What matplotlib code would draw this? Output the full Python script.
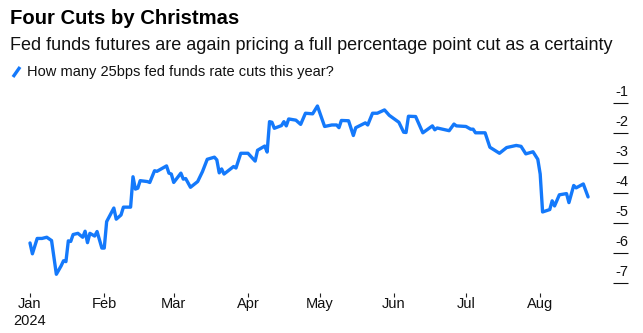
import matplotlib
matplotlib.use("Agg")
import matplotlib.pyplot as plt
import matplotlib.dates as mdates
from matplotlib.lines import Line2D
import numpy as np
import pandas as pd

plt.rcParams['font.family'] = ['Liberation Sans', 'DejaVu Sans']

title = "Four Cuts by Christmas"
subtitle = "Fed funds futures are again pricing a full percentage point cut as a certainty"
series_label = "How many 25bps fed funds rate cuts this year?"

dates = [
    "2024-01-01", "2024-01-02", "2024-01-04", "2024-01-06", "2024-01-08", "2024-01-10",
    "2024-01-12", "2024-01-14", "2024-01-15", "2024-01-16", "2024-01-17", "2024-01-18",
    "2024-01-19", "2024-01-21", "2024-01-23", "2024-01-24", "2024-01-25", "2024-01-26",
    "2024-01-28", "2024-01-29", "2024-01-31", "2024-02-01", "2024-02-02", "2024-02-05",
    "2024-02-06", "2024-02-08", "2024-02-09", "2024-02-12", "2024-02-13", "2024-02-14",
    "2024-02-15", "2024-02-16", "2024-02-19", "2024-02-20", "2024-02-22", "2024-02-23",
    "2024-02-27", "2024-02-28", "2024-02-29", "2024-03-01", "2024-03-04", "2024-03-05",
    "2024-03-06", "2024-03-08", "2024-03-11", "2024-03-13", "2024-03-15", "2024-03-18",
    "2024-03-19", "2024-03-20", "2024-03-21", "2024-03-22", "2024-03-26", "2024-03-27",
    "2024-03-29", "2024-04-01", "2024-04-04", "2024-04-05", "2024-04-08", "2024-04-09",
    "2024-04-10", "2024-04-11", "2024-04-12", "2024-04-15", "2024-04-16", "2024-04-17",
    "2024-04-18", "2024-04-21", "2024-04-23", "2024-04-25", "2024-04-28", "2024-04-30",
    "2024-05-03", "2024-05-06", "2024-05-08", "2024-05-09", "2024-05-10", "2024-05-13",
    "2024-05-15", "2024-05-16", "2024-05-20", "2024-05-21", "2024-05-23", "2024-05-25",
    "2024-05-28", "2024-05-30", "2024-06-03", "2024-06-05", "2024-06-06", "2024-06-07",
    "2024-06-10", "2024-06-13", "2024-06-17", "2024-06-18", "2024-06-19", "2024-06-24",
    "2024-06-26", "2024-06-27", "2024-07-01", "2024-07-03", "2024-07-04", "2024-07-05",
    "2024-07-09", "2024-07-11", "2024-07-15", "2024-07-18", "2024-07-22", "2024-07-24",
    "2024-07-26", "2024-07-29", "2024-07-31", "2024-08-01", "2024-08-02", "2024-08-05",
    "2024-08-06", "2024-08-07", "2024-08-09", "2024-08-12", "2024-08-13", "2024-08-15",
    "2024-08-16", "2024-08-19", "2024-08-21",
]
cuts = [
    -5.66, -6.02, -5.51, -5.51, -5.47, -5.58,
    -6.70, -6.42, -6.25, -6.28, -5.59, -5.61,
    -5.38, -5.34, -5.47, -5.27, -5.65, -5.34,
    -5.43, -5.28, -5.83, -5.83, -4.95, -4.50,
    -4.87, -4.73, -4.47, -4.47, -3.46, -3.87,
    -3.84, -3.59, -3.62, -3.65, -3.26, -3.28,
    -3.10, -3.34, -3.37, -3.65, -3.34, -3.54,
    -3.52, -3.81, -3.62, -3.29, -2.88, -2.81,
    -2.90, -3.33, -3.20, -3.37, -3.12, -3.17,
    -2.68, -2.68, -2.94, -2.58, -2.44, -2.64,
    -1.63, -1.65, -1.85, -1.76, -1.63, -1.77,
    -1.54, -1.58, -1.72, -1.35, -1.37, -1.11,
    -1.79, -1.74, -1.74, -1.83, -1.59, -1.60,
    -2.09, -1.83, -1.67, -1.74, -1.35, -1.35,
    -1.24, -1.42, -1.65, -1.98, -1.99, -1.45,
    -1.46, -2.00, -1.77, -1.90, -1.84, -1.93,
    -1.71, -1.77, -1.79, -1.88, -1.88, -2.00,
    -2.00, -2.48, -2.68, -2.49, -2.42, -2.45,
    -2.70, -2.63, -2.88, -3.37, -4.63, -4.55,
    -4.26, -4.43, -4.06, -4.02, -4.32, -3.75,
    -3.83, -3.70, -4.13,
]

month_ticks = ["2024-01-01", "2024-02-01", "2024-03-01", "2024-04-01",
               "2024-05-01", "2024-06-01", "2024-07-01", "2024-08-01"]
month_labels = ["Jan\n2024", "Feb", "Mar", "Apr", "May", "Jun", "Jul", "Aug"]
y_ticks = [-1, -2, -3, -4, -5, -6, -7]

LINE_BLUE = "#1479fb"
W, H = 643, 333

fig = plt.figure(figsize=(W / 100, H / 100), dpi=100)
fig.patch.set_facecolor("white")

left_px, right_px, top_px, bottom_px = 30, 613, 102.7, 283.3
ax = fig.add_axes([left_px / W, 1 - bottom_px / H,
                   (right_px - left_px) / W, (bottom_px - top_px) / H])

x = pd.to_datetime(dates)
ax.plot(x, cuts, color=LINE_BLUE, lw=2.4, solid_joinstyle="round",
        solid_capstyle="round", clip_on=False)

x0 = pd.Timestamp("2024-01-01")
ax.set_xlim(x0, x0 + pd.Timedelta(days=243.4))
ax.set_ylim(-7, -1)
for s in ax.spines.values():
    s.set_visible(False)

ax.set_xticks([])
ax.set_yticks([])
px_per_unit = (bottom_px - top_px) / 6

# month ticks hang below the plot area
for t, lab in zip(pd.to_datetime(month_ticks), month_labels):
    xn = mdates.date2num(t)
    ax.plot([xn, xn], [-7 - 10 / px_per_unit, -7 - 14 / px_per_unit],
            color="#222222", lw=0.8, clip_on=False, solid_capstyle="butt")
    ax.annotate(lab, xy=(xn, -7), xycoords="data", xytext=(0, -14),
                textcoords="offset pixels", ha="center", va="top",
                fontsize=10.5, color="#111111", linespacing=1.25)

# right-hand value scale: short rule under each label
trans = ax.get_yaxis_transform()
rule = 15 / (right_px - left_px)
for v in y_ticks:
    ax.plot([1.0, 1.0 + rule], [v, v], color="#111111",
            lw=0.8, transform=trans, clip_on=False, solid_capstyle="butt")
    ax.annotate(f"{v}", xy=(1.0 + rule, v), xycoords=trans,
                xytext=(0, 4), textcoords="offset pixels",
                ha="right", va="bottom", fontsize=10.5, color="#111111")

fig.text(10 / W, 1 - 19 / H, title, fontsize=14.6, fontweight="bold",
         ha="left", va="center", color="#000000")
fig.text(10 / W, 1 - 46 / H, subtitle, fontsize=13, ha="left",
         va="center", color="#111111")

# legend swatch: short diagonal stroke
fig.add_artist(Line2D([13 / W, 20 / W], [1 - 77 / H, 1 - 67 / H],
                      color=LINE_BLUE, lw=2.4, solid_capstyle="butt"))
fig.text(27 / W, 1 - 72 / H, series_label, fontsize=10.5, ha="left",
         va="center", color="#111111")

fig.savefig("out.png", dpi=100, facecolor="white")
